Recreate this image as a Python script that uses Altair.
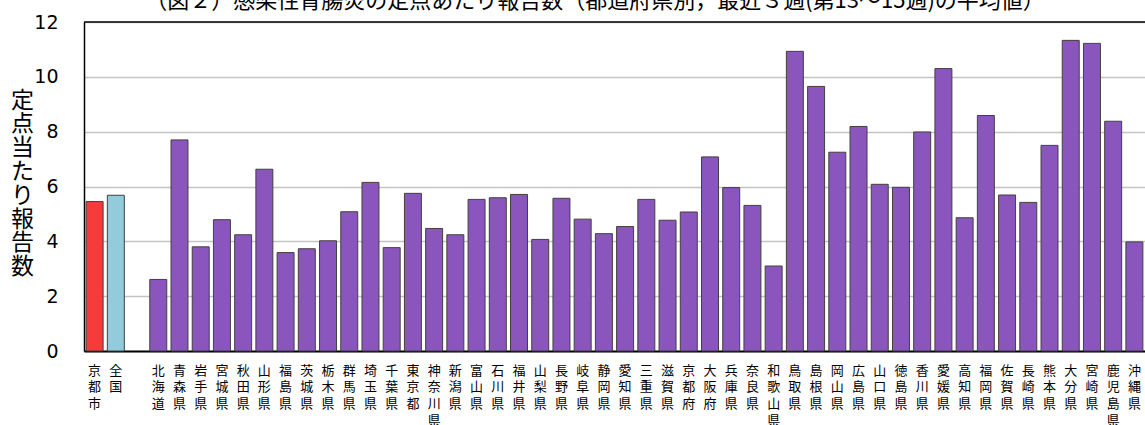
import altair as alt
import pandas as pd

title_text = "（図２）感染性胃腸炎の定点あたり報告数（都道府県別，最近３週(第13～15週)の平均値）"
y_title = "定点当たり報告数"

names = ["京都市", "全国",
         "北海道", "青森県", "岩手県", "宮城県", "秋田県", "山形県", "福島県", "茨城県", "栃木県", "群馬県",
         "埼玉県", "千葉県", "東京都", "神奈川県", "新潟県", "富山県", "石川県", "福井県", "山梨県", "長野県",
         "岐阜県", "静岡県", "愛知県", "三重県", "滋賀県", "京都府", "大阪府", "兵庫県", "奈良県", "和歌山県",
         "鳥取県", "島根県", "岡山県", "広島県", "山口県", "徳島県", "香川県", "愛媛県", "高知県", "福岡県",
         "佐賀県", "長崎県", "熊本県", "大分県", "宮崎県", "鹿児島県", "沖縄県"]
values = [5.45, 5.68,
          2.61, 7.70, 3.80, 4.79, 4.24, 6.63, 3.59, 3.73, 4.02, 5.08,
          6.15, 3.77, 5.75, 4.47, 4.24, 5.53, 5.59, 5.71, 4.07, 5.57,
          4.81, 4.28, 4.54, 5.53, 4.77, 5.07, 7.08, 5.96, 5.31, 3.10,
          10.93, 9.65, 7.25, 8.19, 6.08, 5.97, 7.99, 10.30, 4.86, 8.59,
          5.69, 5.42, 7.50, 11.33, 11.22, 8.38, 3.98]
kinds = ["city", "nation"] + ["pref"] * 47

domain = names[:2] + [" "] + names[2:]

df = pd.DataFrame({"name": names, "value": values, "kind": kinds})

y_scale = alt.Scale(domain=[0, 12], nice=False, zero=True)

bars = alt.Chart(df).mark_bar(stroke="#404040", strokeWidth=1).encode(
    x=alt.X("name:N", sort=domain,
            scale=alt.Scale(domain=domain, paddingInner=0.2, paddingOuter=0.1),
            axis=alt.Axis(title=None, labelAngle=0, labelExpr="split(datum.label, '')",
                          labelFont="Noto Sans CJK JP", labelFontSize=13, labelLineHeight=16.7,
                          labelBaseline="top", labelAlign="center", labelPadding=13,
                          labelColor="black", ticks=False, domainColor="black", domainWidth=2)),
    y=alt.Y("value:Q", scale=y_scale,
            axis=alt.Axis(values=[0, 2, 4, 6, 8, 10, 12], title=list(y_title), titleAngle=0,
                          titleFont="Noto Sans CJK JP", titleFontSize=23, titleFontWeight="normal",
                          titleLineHeight=23.8, titleX=-62, titleY=78, titleAlign="center",
                          titleBaseline="middle", titleColor="black",
                          labelFont="DejaVu Sans", labelFontSize=19, labelColor="black",
                          labelPadding=26, ticks=False, domainColor="black", domainWidth=1.5,
                          grid=True, gridColor="#C4C4C4", gridWidth=1.5)),
    color=alt.Color("kind:N", scale=alt.Scale(domain=["city", "nation", "pref"],
                                              range=["#F73B3B", "#92CCDC", "#8A55BC"]), legend=None),
)

top = alt.Chart(pd.DataFrame({"v": [12]})).mark_rule(color="black", strokeWidth=1.5).encode(
    y=alt.Y("v:Q", scale=y_scale)
)

title = alt.Chart(pd.DataFrame({"t": [title_text]})).mark_text(
    font="Noto Sans CJK JP", fontSize=22, baseline="alphabetic", align="center", color="black"
).encode(text="t:N", x=alt.value(511), y=alt.value(-14))

chart = alt.layer(bars, top, title).properties(
    width=1061, height=329,
    autosize=alt.AutoSizeParams(type="none"),
    padding={"left": 84, "top": 22, "right": 0, "bottom": 74},
    background="white",
).configure_view(strokeWidth=0)

chart.save("out.html", embed_options={"renderer": "svg", "actions": False})
